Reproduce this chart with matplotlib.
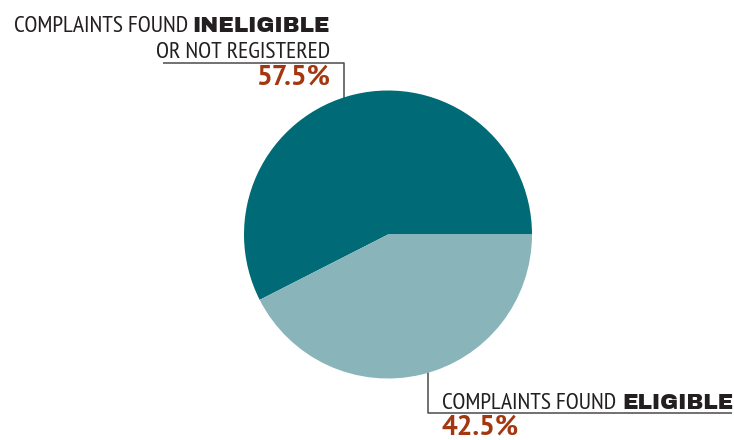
import matplotlib
matplotlib.use("Agg")
import matplotlib.pyplot as plt

# ---- data ----
categories = ["Complaints found ineligible or not registered", "Complaints found eligible"]
values = [57.5, 42.5]
colors = ["#006b77", "#89b4ba"]

W, H = 734, 440
fig = plt.figure(figsize=(W / 100, H / 100), dpi=100)
ax = fig.add_axes([0, 0, 1, 1])

def Y(y):
    return H - y

cx, cy, r = 388, 234.5, 144
wedges, _ = ax.pie(values, colors=colors, startangle=0, counterclock=True,
                   center=(cx, Y(cy)), radius=r, wedgeprops=dict(linewidth=0))
for w in wedges:
    w.set_zorder(3)
ax.set_xlim(0, W)
ax.set_ylim(0, H)
ax.set_aspect("auto")
ax.axis("off")

txt = "#231f20"
pct = "#a3370f"
line_c = "#4a4a4a"
REG = dict(family=["PT Sans Narrow", "DejaVu Sans"], fontsize=17, color=txt)
BOLD = dict(family=["Archivo Black", "DejaVu Sans"], fontweight="bold", fontsize=15.5, color=txt)
PCT = dict(family=["PT Sans", "DejaVu Sans"], fontweight="bold", fontsize=20, color=pct)

# leader lines
ax.plot([163, 344, 344], [Y(63), Y(63), Y(100)], color=line_c, lw=1.1, zorder=1, solid_capstyle="butt")
ax.plot([428, 428, 732], [Y(370), Y(413), Y(413)], color=line_c, lw=1.1, zorder=1, solid_capstyle="butt")

fig.canvas.draw()
rend = fig.canvas.get_renderer()
inv = ax.transData.inverted()

# top label
b1 = ax.text(330, Y(32), "INELIGIBLE", ha="right", va="baseline", **BOLD)
fig.canvas.draw()
bb = b1.get_window_extent(rend)
left = inv.transform((bb.x0, 0))[0]
ax.text(left - 5, Y(32), "COMPLAINTS FOUND", ha="right", va="baseline", **REG)
ax.text(330, Y(58), "OR NOT REGISTERED", ha="right", va="baseline", **REG)
ax.text(330, Y(85), f"{values[0]}%", ha="right", va="baseline", **PCT)

# bottom label
t2 = ax.text(442, Y(409), "COMPLAINTS FOUND", ha="left", va="baseline", **REG)
fig.canvas.draw()
bb = t2.get_window_extent(rend)
right = inv.transform((bb.x1, 0))[0]
ax.text(right + 6, Y(409), "ELIGIBLE", ha="left", va="baseline", **BOLD)
ax.text(442, Y(435), f"{values[1]}%", ha="left", va="baseline", **PCT)

fig.savefig("out.png", dpi=100)
